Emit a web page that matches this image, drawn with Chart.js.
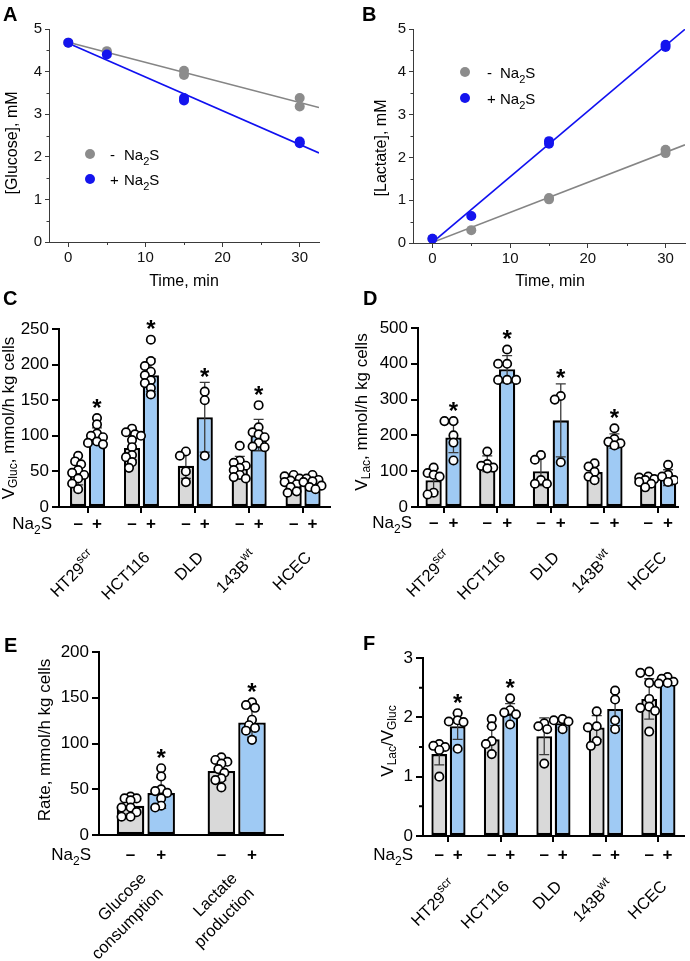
<!DOCTYPE html>
<html lang="en">
<head>
<meta charset="UTF-8">
<title>Glucose and lactate rates</title>
<script src="https://cdn.jsdelivr.net/npm/chart.js"></script>
<style>
  body { margin: 0; background: #fff; width: 690px; height: 961px; position: relative; overflow: hidden; }
  canvas { position: absolute; }
</style>
</head>
<body>
<canvas id="cA"></canvas>
<canvas id="cB"></canvas>
<canvas id="cC"></canvas>
<canvas id="cD"></canvas>
<canvas id="cE"></canvas>
<canvas id="cF"></canvas>
<script>
const FONT = '"Liberation Sans", Arial, Helvetica, sans-serif';
const GRAY_BAR = '#d9d9d9', BLUE_BAR = '#9fcaf4';
const GRAY_DOT = '#8c8c8c', BLUE_DOT = '#1414ee';
const GRAY_LINE = '#858585', BLUE_LINE = '#1010f0';

// ---- A: glucose in medium vs time
const timeTicks = [0, 10, 20, 30];
const mMTicks = [0, 1, 2, 3, 4, 5];
const tGlucCtrl = [0, 5, 5, 15, 15, 30, 30];
const glucCtrl = [4.68, 4.48, 4.45, 4.02, 3.92, 3.38, 3.18];
const tGlucNa = [0, 5, 15, 15, 30, 30];
const glucNa = [4.68, 4.40, 3.38, 3.32, 2.36, 2.32];

// ---- B: lactate in medium vs time
const tLac = [0, 5, 15, 15, 30, 30];
const lacCtrl = [0.10, 0.30, 1.02, 1.05, 2.10, 2.18];
const lacNa = [0.10, 0.63, 2.32, 2.38, 4.58, 4.63];

// ---- categories
const cellLines = ['HT29^{scr}', 'HCT116', 'DLD', '143B^{wt}', 'HCEC'];
const rateCats = [['Glucose', 'consumption'], ['Lactate', 'production']];

// ---- C: V gluc
const vGlucMeanCtrl = [46, 83, 58, 57, 31];
const vGlucSdCtrl = [15, 17, 18, 14, 7];
const vGlucMeanNa = [100, 185, 126, 101, 33];
const vGlucSdNa = [11, 23, 49, 22, 7];
const vGlucPtsCtrl = [[72, 64, 60, 52, 48, 45, 40, 33, 25], [110, 105, 102, 100, 94, 84, 73, 70, 63, 55], [78, 72, 50, 35], [86, 65, 62, 58, 55, 52, 45, 42, 40], [45, 43, 40, 37, 35, 32, 28, 22, 20]];
const vGlucPtsNa = [[125, 116, 103, 100, 98, 92, 90, 88], [235, 205, 198, 190, 185, 178, 174, 167, 158], [162, 150, 72], [143, 112, 105, 102, 98, 90, 85, 84], [45, 40, 38, 36, 35, 30, 28, 25]];
const vGlucSig = [1, 1, 1, 1, 0];

// ---- D: V lac
const vLacMeanCtrl = [75, 121, 100, 98, 72];
const vLacSdCtrl = [32, 22, 40, 18, 10];
const vLacMeanNa = [194, 385, 242, 184, 82];
const vLacSdNa = [42, 38, 102, 20, 22];
const vLacPtsCtrl = [[110, 95, 90, 85, 40, 35], [155, 120, 115, 110, 108], [145, 132, 75, 65, 65], [122, 113, 98, 85, 75], [85, 82, 78, 75, 70, 65, 55]];
const vLacPtsNa = [[240, 240, 200, 180, 130], [440, 400, 400, 355, 355, 355], [310, 300, 125], [220, 190, 182, 178, 172], [118, 90, 85, 75, 70]];
const vLacSig = [1, 1, 1, 1, 0];

// ---- E: pooled rates
const rateMeanCtrl = [32, 70];
const rateSdCtrl = [9, 10];
const rateMeanNa = [46, 123];
const rateSdNa = [17, 16];
const ratePtsCtrl = [[42, 40, 40, 38, 30, 30, 25, 20, 20], [85, 82, 80, 78, 72, 68, 62, 60, 52]];
const ratePtsNa = [[73, 64, 50, 48, 46, 40, 32, 30], [145, 142, 139, 126, 120, 117, 114, 104]];
const rateSig = [1, 1];

// ---- F: V lac / V gluc
const ratioMeanCtrl = [1.38, 1.63, 1.68, 1.83, 2.31];
const ratioSdCtrl = [0.18, 0.22, 0.31, 0.20, 0.34];
const ratioMeanNa = [1.85, 2.06, 1.90, 2.14, 2.59];
const ratioSdNa = [0.22, 0.17, 0.07, 0.28, 0.05];
const ratioPtsCtrl = [[1.55, 1.52, 1.50, 1.45, 1.00], [1.97, 1.85, 1.60, 1.55, 1.38], [1.90, 1.85, 1.80, 1.22], [2.10, 1.85, 1.83, 1.60, 1.52], [2.77, 2.75, 2.58, 2.31, 2.18, 2.16, 2.11, 1.76]];
const ratioPtsNa = [[2.07, 1.95, 1.93, 1.92, 1.47], [2.32, 2.12, 2.08, 2.05, 1.88], [1.97, 1.95, 1.93, 1.80], [2.45, 2.30, 1.95, 1.80], [2.68, 2.65, 2.60, 2.58, 2.57]];
const ratioSig = [1, 1, 0, 0, 0];

// text with _{sub} and ^{sup}
function parseRich(s) {
  const out = [];
  const re = /([_^])\{([^}]*)\}|([^_^]+)/g;
  let m;
  while ((m = re.exec(s))) {
    if (m[3]) out.push([m[3], 0]);
    else out.push([m[2], m[1] === '_' ? 1 : 2]);
  }
  return out;
}
function drawRich(ctx, s, x, y, o) {
  o = Object.assign({ size: 16, align: 'left', rot: 0, weight: '', baseline: 'alphabetic', color: '#000' }, o);
  const parts = parseRich(s), fs = o.size, ss = Math.round(fs * 0.72);
  ctx.save();
  ctx.translate(x, y);
  ctx.rotate(o.rot);
  ctx.fillStyle = o.color;
  ctx.textBaseline = o.baseline;
  ctx.textAlign = 'left';
  let w = 0;
  const ws = parts.map(p => {
    ctx.font = `${o.weight} ${p[1] ? ss : fs}px ${FONT}`;
    const mw = ctx.measureText(p[0]).width;
    w += mw;
    return mw;
  });
  let cx = o.align === 'right' ? -w : o.align === 'center' ? -w / 2 : 0;
  parts.forEach((p, i) => {
    ctx.font = `${o.weight} ${p[1] ? ss : fs}px ${FONT}`;
    const dy = p[1] === 1 ? fs * 0.3 : p[1] === 2 ? -fs * 0.38 : 0;
    ctx.fillText(p[0], cx, dy);
    cx += ws[i];
  });
  ctx.restore();
}

function place(id, box) {
  const c = document.getElementById(id);
  c.width = box.w; c.height = box.h;
  Object.assign(c.style, { left: box.x + 'px', top: box.y + 'px', width: box.w + 'px', height: box.h + 'px' });
  return c;
}

function fit(xs, ys) {
  const n = xs.length;
  const mx = xs.reduce((a, b) => a + b, 0) / n, my = ys.reduce((a, b) => a + b, 0) / n;
  let sxy = 0, sxx = 0;
  xs.forEach((x, i) => { sxy += (x - mx) * (ys[i] - my); sxx += (x - mx) * (x - mx); });
  const b = sxy / sxx;
  return { a: my - b * mx, b };
}

// compact beeswarm: spread dots sideways a little, allow some overlap
function swarm(vals, cx, pxX, pxY) {
  const placed = [], D = 6.2, step = 3;
  [...vals].sort((a, b) => b - a).forEach(v => {
    const py = v * pxY;
    let best = null, bestCost = Infinity;
    for (const k of [0, -1, 1, -2, 2, -3, 3]) {
      const px = k * step;
      let cost = 0;
      placed.forEach(p => { const dd = Math.hypot(p.px - px, p.py - py); if (dd < D) cost += D - dd; });
      cost += Math.abs(k) * 0.01;
      if (cost < bestCost) { bestCost = cost; best = px; }
      if (cost < 0.05) break;
    }
    placed.push({ px: best, py, v });
  });
  return placed.map(p => ({ x: cx + p.px / pxX, y: p.v }));
}

function linePanel(id, box, plot, d) {
  const canvas = place(id, box);
  const fc = fit(d.tCtrl, d.yCtrl), fn = fit(d.tNa, d.yNa);
  const xMin = -2.5, xMax = 32.5;
  const fitLine = (f, color) => ({
    type: 'line', data: [0, xMax].map(x => ({ x, y: f.a + f.b * x })),
    borderColor: color, borderWidth: 1.6, pointRadius: 0, order: 4
  });
  const pts = (ts, ys, color, order) => ({
    type: 'scatter', data: ts.map((x, i) => ({ x, y: ys[i] })),
    pointRadius: 5, pointBackgroundColor: color, pointBorderColor: color, pointBorderWidth: 0, order
  });
  const AX = '#3a3a3a';
  new Chart(canvas, {
    type: 'scatter',
    data: { datasets: [pts(d.tNa, d.yNa, BLUE_DOT, 0), pts(d.tCtrl, d.yCtrl, GRAY_DOT, 1), fitLine(fc, GRAY_LINE), fitLine(fn, BLUE_LINE)] },
    options: {
      responsive: false, animation: false, devicePixelRatio: 1,
      layout: { padding: { left: 0, top: plot.t - box.y, right: box.x + box.w - plot.r, bottom: 0 } },
      plugins: { legend: { display: false }, tooltip: { enabled: false } },
      scales: {
        x: {
          type: 'linear', min: xMin, max: xMax,
          afterBuildTicks: s => { s.ticks = timeTicks.map(v => ({ value: v })); },
          ticks: { font: { family: FONT, size: 15 }, color: '#111', padding: 2, maxRotation: 0 },
          grid: { drawOnChartArea: false, tickLength: 5, color: AX, lineWidth: 1 },
          border: { color: AX, width: 1 },
          afterFit: s => { s.height = box.y + box.h - plot.b; }
        },
        y: {
          type: 'linear', min: 0, max: 5,
          afterBuildTicks: s => { s.ticks = mMTicks.map(v => ({ value: v })); },
          ticks: { font: { family: FONT, size: 15 }, color: '#111', padding: 3 },
          grid: { drawOnChartArea: false, tickLength: 4, color: AX, lineWidth: 1 },
          border: { color: AX, width: 1 },
          afterFit: s => { s.width = plot.l - box.x; }
        }
      }
    },
    plugins: [{
      id: 'extrasLine',
      afterDraw(chart) {
        const ctx = chart.ctx, xs = chart.scales.x, ys = chart.scales.y, ca = chart.chartArea;
        ctx.save();
        ctx.strokeStyle = AX; ctx.lineWidth = 1;
        ctx.beginPath();
        [0.5, 1.5, 2.5, 3.5, 4.5].forEach(v => { const y = Math.round(ys.getPixelForValue(v)) + 0.5; ctx.moveTo(ca.left - 2.5, y); ctx.lineTo(ca.left, y); });
        [5, 15, 25].forEach(v => { const x = Math.round(xs.getPixelForValue(v)) + 0.5; ctx.moveTo(x, ca.bottom); ctx.lineTo(x, ca.bottom + 3); });
        ctx.stroke();
        ctx.translate(-box.x, -box.y);
        drawRich(ctx, d.title, d.titleX, d.titleY, { size: 16, align: 'center', rot: -Math.PI / 2, baseline: 'middle' });
        drawRich(ctx, 'Time, min', d.timeX, 286, { size: 16, align: 'center' });
        drawRich(ctx, d.letter, d.letterX, 21, { size: 20, weight: 'bold' });
        const lg = d.legend;
        [[GRAY_DOT, '-', lg.y1], [BLUE_DOT, '+', lg.y2]].forEach(([c, sgn, yy]) => {
          ctx.fillStyle = c;
          ctx.beginPath(); ctx.arc(lg.dotX, yy, 5, 0, Math.PI * 2); ctx.fill();
          drawRich(ctx, sgn, lg.signX, yy + 6, { size: 15 });
          drawRich(ctx, 'Na_{2}S', lg.textX, yy + 6, { size: 15 });
        });
        ctx.restore();
      }
    }]
  });
}

function barPanel(id, box, plot, d) {
  const canvas = place(id, box);
  const pxX = (plot.r - plot.l) / (d.xMax - d.xMin);
  const pxY = (plot.b - plot.t) / d.yMax;
  const off = d.catPct / 4;
  const dots = [];
  d.ptsCtrl.forEach((v, i) => dots.push(...swarm(v, i - off, pxX, pxY)));
  d.ptsNa.forEach((v, i) => dots.push(...swarm(v, i + off, pxX, pxY)));
  const barSet = (vals, fill) => ({
    type: 'bar', data: vals.map((y, i) => ({ x: i, y })),
    backgroundColor: fill, borderColor: '#000', borderWidth: 2.3, borderSkipped: false,
    categoryPercentage: d.catPct, barPercentage: d.barPct, order: 5
  });
  const yTicks = [];
  for (let v = 0; v <= d.yMax + 1e-9; v += d.yStep) yTicks.push(+v.toFixed(3));
  new Chart(canvas, {
    type: 'bar',
    data: {
      datasets: [
        { type: 'scatter', data: dots, pointRadius: 4.2, pointBackgroundColor: '#fff', pointBorderColor: '#000', pointBorderWidth: 1.7, order: 0 },
        barSet(d.meanCtrl, GRAY_BAR), barSet(d.meanNa, BLUE_BAR)
      ]
    },
    options: {
      responsive: false, animation: false, devicePixelRatio: 1,
      layout: { padding: { left: 0, top: plot.t - box.y, right: box.x + box.w - plot.r, bottom: 0 } },
      plugins: { legend: { display: false }, tooltip: { enabled: false } },
      scales: {
        x: {
          type: 'linear', offset: false, min: d.xMin, max: d.xMax,
          afterBuildTicks: s => { s.ticks = d.cats.map((c, i) => ({ value: i })); },
          ticks: { display: false },
          grid: { display: d.xTicks, offset: false, drawOnChartArea: false, tickLength: 6, lineWidth: 2, color: '#000' },
          border: { color: '#000', width: 2 },
          afterFit: s => { s.height = box.y + box.h - plot.b; }
        },
        y: {
          type: 'linear', min: 0, max: d.yMax,
          afterBuildTicks: s => { s.ticks = yTicks.map(v => ({ value: v })); },
          ticks: { font: { family: FONT, size: 17 }, color: '#000', padding: 3 },
          grid: { drawOnChartArea: false, tickLength: 7, lineWidth: 2, color: '#000' },
          border: { color: '#000', width: 2 },
          afterFit: s => { s.width = plot.l - box.x; }
        }
      }
    },
    plugins: [{
      id: 'extrasBar',
      beforeDatasetDraw(chart, args) {
        if (args.index !== 0) return;
        const ctx = chart.ctx, xs = chart.scales.x, ys = chart.scales.y;
        ctx.save();
        ctx.strokeStyle = '#3a3a3a'; ctx.lineWidth = 1.3;
        [[d.meanCtrl, d.sdCtrl, -off], [d.meanNa, d.sdNa, off]].forEach(([m, sd, o]) => m.forEach((v, i) => {
          const x = xs.getPixelForValue(i + o);
          const yHi = ys.getPixelForValue(v + sd[i]), yLo = ys.getPixelForValue(Math.max(0, v - sd[i]));
          ctx.beginPath();
          ctx.moveTo(x, yLo); ctx.lineTo(x, yHi);
          ctx.moveTo(x - 5, yHi); ctx.lineTo(x + 5, yHi);
          ctx.moveTo(x - 5, yLo); ctx.lineTo(x + 5, yLo);
          ctx.stroke();
        }));
        ctx.restore();
      },
      afterDraw(chart) {
        const ctx = chart.ctx, xs = chart.scales.x, ys = chart.scales.y, ca = chart.chartArea;
        const X = v => xs.getPixelForValue(v) + box.x, Y = v => ys.getPixelForValue(v) + box.y;
        ctx.save();
        if (d.yMinor) {
          ctx.strokeStyle = '#000'; ctx.lineWidth = 2;
          ctx.beginPath();
          d.yMinor.forEach(v => { const y = ys.getPixelForValue(v); ctx.moveTo(ca.left - 4, y); ctx.lineTo(ca.left, y); });
          ctx.stroke();
        }
        ctx.translate(-box.x, -box.y);
        d.sig.forEach((s, i) => {
          if (!s) return;
          const top = Math.min(Y(Math.max(...d.ptsNa[i])) - 16, Y(d.meanNa[i] + d.sdNa[i]) - 11);
          drawRich(ctx, '*', X(i + off), top + 13.5, { size: 24, weight: 'bold', align: 'center' });
        });
        drawRich(ctx, 'Na_{2}S', d.naX, d.naY, { size: 17, align: 'right' });
        d.cats.forEach((c, i) => {
          drawRich(ctx, '\u2013', X(i - off), d.naY, { size: 17, align: 'center', weight: 'bold' });
          drawRich(ctx, '+', X(i + off), d.naY, { size: 17, align: 'center', weight: 'bold' });
          [].concat(c).forEach((ln, j) => drawRich(ctx, ln, X(i) + d.lab.dx + j * d.lab.sx, d.lab.y + j * d.lab.sy,
            { size: 16.5, align: 'right', rot: -Math.PI / 4, baseline: 'middle' }));
        });
        drawRich(ctx, d.title, d.titleX, d.titleY, { size: 17, align: 'center', rot: -Math.PI / 2, baseline: 'middle' });
        drawRich(ctx, d.letter, d.letterX, d.letterY, { size: 20, weight: 'bold' });
        ctx.restore();
      }
    }]
  });
}

linePanel('cA', { x: 0, y: 0, w: 345, h: 290 }, { l: 49, r: 319, t: 29, b: 242 }, {
  tCtrl: tGlucCtrl, yCtrl: glucCtrl, tNa: tGlucNa, yNa: glucNa,
  title: '[Glucose], mM', titleX: 13, titleY: 143, timeX: 184, letter: 'A', letterX: 3,
  legend: { dotX: 90, signX: 110, textX: 124, y1: 154, y2: 179 }
});
linePanel('cB', { x: 345, y: 0, w: 345, h: 290 }, { l: 413, r: 687, t: 29, b: 243 }, {
  tCtrl: tLac, yCtrl: lacCtrl, tNa: tLac, yNa: lacNa,
  title: '[Lactate], mM', titleX: 382, titleY: 148, timeX: 550, letter: 'B', letterX: 362,
  legend: { dotX: 465, signX: 487, textX: 500, y1: 72, y2: 98 }
});
barPanel('cC', { x: 0, y: 290, w: 345, h: 310 }, { l: 59, r: 330, t: 329, b: 507 }, {
  cats: cellLines, meanCtrl: vGlucMeanCtrl, sdCtrl: vGlucSdCtrl, meanNa: vGlucMeanNa, sdNa: vGlucSdNa,
  ptsCtrl: vGlucPtsCtrl, ptsNa: vGlucPtsNa, sig: vGlucSig,
  xMin: -0.53, xMax: 4.5, yMax: 250, yStep: 50, catPct: 0.70, barPct: 0.86, xTicks: true,
  naX: 52, naY: 529, lab: { dx: 6, y: 555, sx: 0, sy: 0 },
  title: 'V_{Gluc}, mmol/h kg cells', titleX: 9, titleY: 418, letter: 'C', letterX: 3, letterY: 305
});
barPanel('cD', { x: 345, y: 290, w: 345, h: 310 }, { l: 418, r: 678, t: 328, b: 507 }, {
  cats: cellLines, meanCtrl: vLacMeanCtrl, sdCtrl: vLacSdCtrl, meanNa: vLacMeanNa, sdNa: vLacSdNa,
  ptsCtrl: vLacPtsCtrl, ptsNa: vLacPtsNa, sig: vLacSig,
  xMin: -0.476, xMax: 4.37, yMax: 500, yStep: 100, catPct: 0.74, barPct: 0.82, xTicks: true,
  naX: 412, naY: 528, lab: { dx: 6, y: 555, sx: 0, sy: 0 },
  title: 'V_{Lac}, mmol/h kg cells', titleX: 362, titleY: 412, letter: 'D', letterX: 363, letterY: 305
});
barPanel('cE', { x: 0, y: 600, w: 345, h: 361 }, { l: 99, r: 283, t: 652, b: 835 }, {
  cats: rateCats, meanCtrl: rateMeanCtrl, sdCtrl: rateSdCtrl, meanNa: rateMeanNa, sdNa: rateSdNa,
  ptsCtrl: ratePtsCtrl, ptsNa: ratePtsNa, sig: rateSig,
  xMin: -0.516, xMax: 1.51, yMax: 200, yStep: 50, catPct: 0.674, barPct: 0.9, xTicks: false,
  naX: 91, naY: 860, lab: { dx: -2, y: 876, sx: 17, sy: 15 },
  title: 'Rate, mmol/h kg cells', titleX: 45, titleY: 740, letter: 'E', letterX: 4, letterY: 652
});
barPanel('cF', { x: 345, y: 600, w: 345, h: 361 }, { l: 423, r: 690, t: 658, b: 836 }, {
  cats: cellLines, meanCtrl: ratioMeanCtrl, sdCtrl: ratioSdCtrl, meanNa: ratioMeanNa, sdNa: ratioSdNa,
  ptsCtrl: ratioPtsCtrl, ptsNa: ratioPtsNa, sig: ratioSig,
  xMin: -0.485, xMax: 4.49, yMax: 3, yStep: 1, yMinor: [0.5, 1.5, 2.5], catPct: 0.70, barPct: 0.86, xTicks: true,
  naX: 413, naY: 860, lab: { dx: 6, y: 884, sx: 0, sy: 0 },
  title: 'V_{Lac}/V_{Gluc}', titleX: 388, titleY: 741, letter: 'F', letterX: 363, letterY: 650
});
</script>
</body>
</html>
